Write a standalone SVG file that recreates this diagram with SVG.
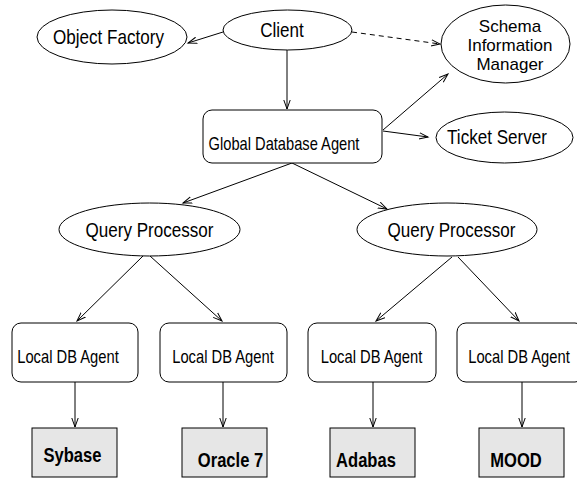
<svg xmlns="http://www.w3.org/2000/svg" width="577" height="482" viewBox="0 0 577 482">
  <style>
    .shape { fill: #ffffff; stroke: #000000; stroke-width: 1; }
    .db { fill: #e6e6e6; stroke: #000000; stroke-width: 1; }
    .edge { fill: none; stroke: #000000; stroke-width: 1; marker-end: url(#arrow); }
    .dashed { stroke-dasharray: 5 4; }
    text { font-family: "Liberation Sans", Arial, Helvetica, sans-serif; fill: #000000; text-anchor: middle; }
    .big { font-size: 20.8px; }
    .stack { font-size: 17px; }
    .mid { font-size: 18px; }
    .gda { font-size: 17.9px; }
    .bold { font-size: 20.2px; font-weight: bold; }
  </style>
  <defs>
    <marker id="arrow" markerUnits="userSpaceOnUse" markerWidth="12" markerHeight="10" refX="9" refY="4" orient="auto">
      <path d="M0,0.8 L9,4 L0,7.2" fill="none" stroke="#000000" stroke-width="1"/>
    </marker>
  </defs>

  <!-- connectors -->
  <g id="connectors">
    <line class="edge" x1="223" y1="32" x2="188" y2="43"/>
    <line class="edge" x1="287" y1="50" x2="287" y2="109"/>
    <line class="edge dashed" x1="352" y1="32" x2="440" y2="44"/>
    <line class="edge" x1="383" y1="130" x2="448" y2="74"/>
    <line class="edge" x1="383" y1="131" x2="428" y2="137"/>
    <line class="edge" x1="292" y1="163" x2="183" y2="203"/>
    <line class="edge" x1="292" y1="163" x2="387" y2="209"/>
    <line class="edge" x1="143" y1="256" x2="77" y2="321"/>
    <line class="edge" x1="150" y1="256" x2="222" y2="321"/>
    <line class="edge" x1="452" y1="257" x2="376" y2="321"/>
    <line class="edge" x1="458" y1="257" x2="519" y2="321"/>
    <line class="edge" x1="75" y1="382" x2="75" y2="427"/>
    <line class="edge" x1="223" y1="382" x2="223" y2="427"/>
    <line class="edge" x1="373" y1="382" x2="373" y2="427"/>
    <line class="edge" x1="522" y1="382" x2="522" y2="427"/>
  </g>

  <!-- top row (labels use a narrowed sans face) -->
  <g id="object-factory">
    <ellipse class="shape" cx="112" cy="37" rx="75" ry="27"/>
    <text class="big" transform="translate(108.5,44) scale(0.82,1)">Object Factory</text>
  </g>
  <g id="client">
    <ellipse class="shape" cx="287.5" cy="30" rx="64.5" ry="20"/>
    <text class="big" transform="translate(282,37) scale(0.82,1)">Client</text>
  </g>
  <g id="schema-information-manager">
    <ellipse class="shape" cx="505.5" cy="44" rx="64.5" ry="39"/>
    <text class="stack" x="510" y="32">Schema</text>
    <text class="stack" x="510" y="51">Information</text>
    <text class="stack" x="510" y="70">Manager</text>
  </g>
  <g id="global-database-agent">
    <rect class="shape" x="203" y="110" width="179" height="53" rx="9" ry="9"/>
    <text class="gda" transform="translate(284,150) scale(0.82,1)">Global Database Agent</text>
  </g>
  <g id="ticket-server">
    <ellipse class="shape" cx="504.5" cy="137.5" rx="68.5" ry="25.5"/>
    <text class="big" transform="translate(497,144) scale(0.82,1)">Ticket Server</text>
  </g>

  <!-- query processors -->
  <g id="query-processor-1">
    <ellipse class="shape" cx="149.5" cy="229.5" rx="90.5" ry="26.5"/>
    <text class="big" transform="translate(149.5,237) scale(0.82,1)">Query Processor</text>
  </g>
  <g id="query-processor-2">
    <ellipse class="shape" cx="447" cy="229.5" rx="90" ry="26.5"/>
    <text class="big" transform="translate(451.5,237) scale(0.82,1)">Query Processor</text>
  </g>

  <!-- local agents -->
  <g id="local-db-agent-1">
    <rect class="shape" x="12" y="323" width="126" height="59" rx="9" ry="9"/>
    <text class="mid" transform="translate(68,363) scale(0.82,1)">Local DB Agent</text>
  </g>
  <g id="local-db-agent-2">
    <rect class="shape" x="160" y="323" width="127" height="59" rx="9" ry="9"/>
    <text class="mid" transform="translate(223,363) scale(0.82,1)">Local DB Agent</text>
  </g>
  <g id="local-db-agent-3">
    <rect class="shape" x="308" y="323" width="128" height="59" rx="9" ry="9"/>
    <text class="mid" transform="translate(371.5,363) scale(0.82,1)">Local DB Agent</text>
  </g>
  <g id="local-db-agent-4">
    <rect class="shape" x="457" y="323" width="127" height="59" rx="9" ry="9"/>
    <text class="mid" transform="translate(519,363) scale(0.82,1)">Local DB Agent</text>
  </g>

  <!-- databases -->
  <g id="sybase">
    <rect class="db" x="32" y="428" width="85" height="49"/>
    <text class="bold" transform="translate(72.5,462) scale(0.82,1)">Sybase</text>
  </g>
  <g id="oracle-7">
    <rect class="db" x="182" y="428" width="85" height="49"/>
    <text class="bold" transform="translate(230.5,467) scale(0.82,1)">Oracle 7</text>
  </g>
  <g id="adabas">
    <rect class="db" x="330" y="428" width="85" height="49"/>
    <text class="bold" transform="translate(366,467) scale(0.82,1)">Adabas</text>
  </g>
  <g id="mood">
    <rect class="db" x="479" y="428" width="85" height="49"/>
    <text class="bold" transform="translate(516,467) scale(0.82,1)">MOOD</text>
  </g>
</svg>
